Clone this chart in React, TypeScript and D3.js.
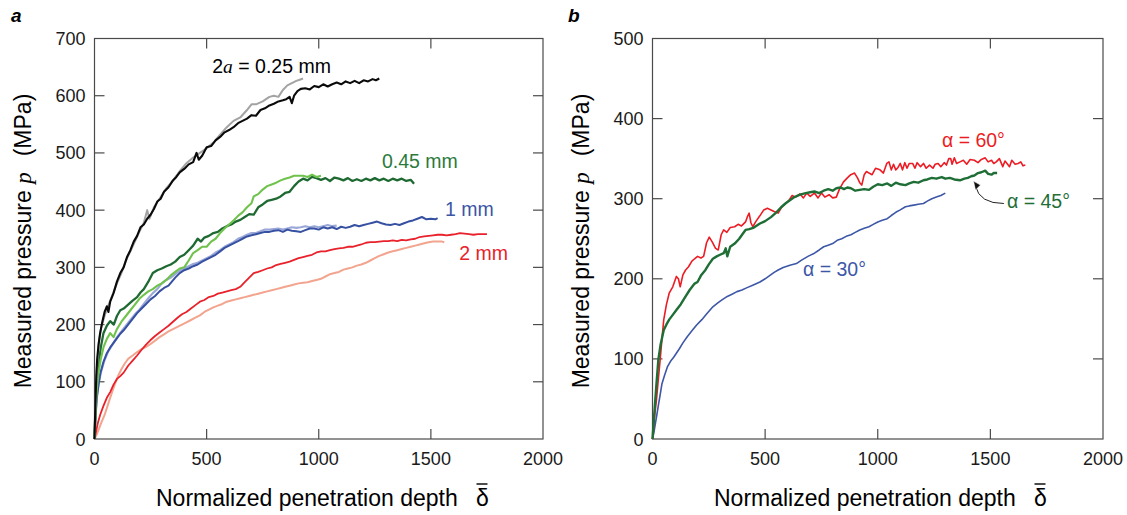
import React from "react";
import * as d3 from "d3";

type P = [number, number];

// ---------- Panel a data (normalized depth, pressure MPa) ----------
const a025Dark: P[] = [[0,0],[4,60],[8,110],[12,140],[18,165],[25,185],[35,205],[45,222],[55,232],[62,222],[70,240],[85,255],[100,275],[115,290],[130,300],[145,318],[160,330],[175,345],[190,355],[205,370],[220,375],[235,385],[250,392],[265,402],[280,415],[295,420],[310,432],[330,440],[350,452],[365,458],[380,466],[400,472],[420,480],[440,484],[455,500],[465,488],[480,495],[500,510],[520,512],[540,522],[560,528],[580,536],[600,540],[620,545],[640,552],[660,556],[680,560],[700,566],[720,565],[740,575],[760,578],[780,583],[800,586],[820,590],[840,592],[855,594],[870,598],[880,587],[890,600],[905,608],[920,612],[940,613],[960,611],[980,617],[1000,615],[1020,620],[1040,616],[1060,620],[1080,623],[1100,620],[1120,625],[1140,622],[1160,626],[1180,622],[1200,627],[1220,625],[1240,629],[1255,627],[1270,630]];
const a025Light: P[] = [[0,0],[5,70],[10,120],[20,170],[30,195],[45,215],[60,232],[80,252],[100,272],[120,290],[140,312],[160,328],[180,345],[200,362],[220,378],[235,400],[245,385],[265,405],[290,420],[320,438],[350,452],[380,468],[410,482],[440,492],[470,500],[500,508],[530,518],[560,532],[590,545],[620,556],[650,562],[680,575],[700,585],[720,585],[750,590],[780,598],[800,600],[820,598],[840,610],[860,618],[880,622],[900,626],[915,628],[930,630]];
const a045Dark: P[] = [[0,0],[5,60],[10,100],[18,130],[28,160],[40,185],[55,198],[70,206],[86,200],[100,215],[115,225],[130,228],[150,235],[170,242],[190,248],[205,256],[220,262],[240,275],[260,290],[280,295],[300,298],[320,302],[340,305],[360,310],[380,318],[400,322],[420,330],[440,338],[460,350],[475,345],[490,352],[510,355],[530,360],[550,362],[570,368],[590,372],[610,375],[630,380],[650,383],[670,388],[690,393],[710,392],[730,405],[750,410],[770,416],[790,418],[810,420],[830,424],[850,430],[870,432],[890,442],[910,450],[930,455],[950,452],[970,458],[990,456],[1010,453],[1030,456],[1050,451],[1070,457],[1090,455],[1110,452],[1130,456],[1150,451],[1170,454],[1190,451],[1210,455],[1230,452],[1250,456],[1270,452],[1290,455],[1310,451],[1330,455],[1350,452],[1370,455],[1390,451],[1410,453],[1425,446]];
const a045Light: P[] = [[0,0],[5,50],[10,85],[18,115],[28,140],[40,160],[55,175],[70,185],[85,178],[100,192],[120,205],[140,215],[160,225],[180,235],[200,245],[220,252],[240,258],[260,262],[280,268],[300,272],[320,278],[340,286],[360,292],[380,298],[400,300],[420,312],[440,325],[460,330],[480,336],[500,336],[520,345],[540,350],[560,360],[580,368],[600,375],[620,382],[640,390],[660,396],[680,405],[700,412],[710,424],[730,428],[750,436],[770,442],[790,445],[810,448],[830,452],[850,455],[870,457],[890,460],[910,460],[930,460],[950,458],[970,462],[990,458],[1010,460]];
const a1Dark: P[] = [[0,0],[5,40],[10,70],[18,95],[26,115],[40,135],[55,150],[70,160],[85,168],[100,176],[115,184],[130,190],[150,200],[170,210],[190,220],[210,228],[230,236],[250,244],[270,250],[290,258],[310,264],[330,268],[345,275],[360,282],[380,290],[400,295],[420,298],[440,302],[460,305],[480,310],[500,314],[520,318],[540,322],[560,328],[580,334],[600,338],[620,342],[640,346],[660,350],[680,354],[700,356],[720,358],[740,360],[760,362],[780,362],[800,364],[820,365],[840,362],[860,366],[880,364],[900,363],[920,362],[940,365],[960,368],[980,368],[1000,366],[1020,370],[1040,368],[1060,370],[1080,367],[1100,371],[1120,369],[1140,371],[1160,374],[1180,372],[1200,374],[1220,376],[1240,378],[1260,380],[1280,377],[1300,375],[1320,374],[1340,376],[1360,374],[1380,377],[1400,380],[1420,382],[1440,385],[1460,388],[1480,384],[1500,385],[1520,384],[1530,386]];
const a1Light: P[] = [[0,0],[5,45],[10,75],[20,100],[30,118],[45,138],[60,152],[80,165],[100,178],[120,188],[140,198],[160,208],[180,218],[200,226],[220,236],[240,246],[260,255],[280,262],[300,272],[320,278],[340,282],[360,288],[380,294],[400,298],[420,302],[440,306],[460,308],[480,312],[500,316],[520,320],[540,326],[560,330],[580,336],[600,340],[620,344],[640,350],[660,353],[680,357],[700,360],[720,360],[740,363],[760,366],[780,366],[800,367],[820,368],[840,366],[860,368],[880,370],[900,369],[920,370],[940,372],[960,370],[980,372],[1000,370],[1020,372],[1040,374],[1060,372],[1080,373]];
const a2Dark: P[] = [[0,0],[8,15],[15,28],[25,42],[40,58],[55,72],[70,82],[85,95],[100,105],[115,110],[130,116],[150,128],[170,137],[190,146],[210,156],[230,165],[250,173],[270,180],[290,186],[310,192],[330,198],[350,205],[370,212],[390,218],[410,222],[430,228],[450,234],[470,240],[490,243],[510,248],[530,250],[550,254],[570,256],[590,258],[610,260],[630,262],[650,266],[670,274],[690,282],[710,290],[730,292],[750,295],[770,298],[790,300],[810,304],[830,306],[850,308],[870,310],[890,313],[910,316],[930,318],[950,320],[970,322],[990,326],[1010,328],[1030,328],[1050,330],[1070,332],[1090,333],[1110,334],[1130,336],[1150,336],[1170,338],[1190,340],[1210,343],[1230,344],[1250,344],[1270,345],[1290,346],[1310,346],[1330,347],[1350,346],[1370,348],[1390,347],[1410,349],[1430,350],[1450,353],[1470,354],[1490,355],[1510,356],[1530,357],[1550,357],[1570,356],[1590,357],[1610,358],[1630,360],[1650,359],[1670,358],[1690,357],[1710,358],[1730,358],[1750,358]];
const a2Light: P[] = [[0,0],[10,8],[20,18],[30,28],[45,42],[60,60],[75,78],[90,95],[105,110],[120,122],[135,132],[150,140],[170,146],[190,152],[210,157],[230,161],[250,166],[270,172],[290,178],[310,183],[330,188],[350,192],[370,196],[390,200],[410,204],[430,208],[450,212],[470,216],[490,222],[510,226],[530,230],[550,233],[570,236],[590,240],[610,242],[630,244],[650,246],[670,248],[690,250],[710,252],[730,254],[750,256],[770,258],[790,260],[810,262],[830,264],[850,266],[870,268],[890,270],[910,272],[930,273],[950,274],[970,276],[990,278],[1010,280],[1030,284],[1050,288],[1070,290],[1090,292],[1110,296],[1130,298],[1150,300],[1170,303],[1190,305],[1210,308],[1230,312],[1250,316],[1270,320],[1290,323],[1310,326],[1330,328],[1350,330],[1370,332],[1390,334],[1410,336],[1430,338],[1450,340],[1470,342],[1490,344],[1510,345],[1530,345],[1550,345],[1560,344]];

// ---------- Panel b data ----------
const b60: P[] = [[0,0],[5,15],[10,30],[18,50],[26,75],[34,99],[42,125],[50,149],[62,168],[74,182],[90,190],[106,203],[115,200],[123,190],[135,205],[147,211],[160,215],[175,222],[187,225],[200,228],[215,226],[227,228],[240,245],[252,252],[265,246],[280,238],[292,236],[305,255],[316,261],[330,258],[345,264],[365,265],[380,268],[395,266],[413,271],[422,278],[429,282],[437,270],[445,265],[460,272],[475,278],[494,286],[510,288],[526,286],[540,284],[558,282],[575,290],[590,294],[606,298],[620,304],[635,302],[655,306],[670,301],[685,307],[700,303],[719,307],[735,301],[750,307],[765,302],[784,305],[800,301],[816,302],[830,312],[848,321],[865,326],[880,330],[897,332],[910,326],[920,320],[929,317],[940,330],[950,334],[961,332],[975,330],[990,338],[1010,336],[1025,332],[1040,344],[1050,346],[1060,336],[1070,343],[1080,336],[1090,339],[1100,344],[1110,336],[1120,345],[1130,338],[1140,344],[1155,344],[1165,338],[1175,345],[1190,340],[1203,344],[1215,338],[1230,342],[1245,338],[1255,343],[1268,344],[1280,340],[1295,345],[1305,342],[1315,350],[1324,350],[1330,343],[1340,351],[1350,344],[1365,346],[1380,348],[1395,343],[1410,349],[1429,348],[1445,345],[1460,349],[1477,351],[1490,346],[1505,348],[1515,344],[1526,346],[1540,350],[1555,340],[1565,347],[1574,344],[1585,340],[1595,348],[1610,343],[1623,344],[1635,346],[1645,341],[1655,342]];
const b45: P[] = [[0,0],[5,20],[10,40],[18,70],[26,99],[36,118],[50,136],[62,143],[74,149],[90,155],[106,161],[125,168],[147,178],[165,186],[187,194],[200,196],[215,204],[235,211],[250,218],[268,225],[285,228],[300,230],[316,232],[325,238],[332,228],[345,240],[365,244],[385,250],[400,256],[413,261],[430,262],[450,264],[477,269],[500,272],[526,277],[550,283],[570,289],[590,294],[610,298],[630,302],[655,305],[680,307],[700,308],[719,309],[740,307],[760,310],[780,312],[800,310],[816,313],[835,314],[850,312],[865,314],[881,313],[900,310],[920,311],[940,312],[961,311],[980,315],[1000,318],[1020,317],[1042,319],[1060,316],[1080,320],[1100,318],[1123,317],[1140,319],[1160,321],[1180,320],[1203,323],[1220,324],[1240,326],[1260,325],[1284,327],[1300,325],[1320,326],[1340,324],[1365,323],[1385,325],[1400,326],[1415,328],[1429,329],[1445,332],[1460,333],[1477,335],[1490,331],[1505,330],[1515,332],[1530,332]];
const b30: P[] = [[0,0],[6,8],[12,18],[18,28],[26,42],[34,55],[42,69],[54,80],[66,90],[80,97],[94,102],[106,107],[120,113],[135,120],[155,128],[175,135],[195,142],[219,149],[240,156],[268,165],[290,170],[310,174],[332,178],[355,181],[375,184],[397,186],[420,189],[445,192],[477,196],[500,200],[520,204],[540,208],[558,211],[580,214],[610,217],[639,219],[660,223],[690,228],[719,232],[740,236],[760,240],[780,242],[800,244],[820,248],[840,250],[860,253],[881,255],[900,258],[920,261],[940,263],[961,265],[980,268],[1000,271],[1020,273],[1042,275],[1060,279],[1080,283],[1100,286],[1123,290],[1140,291],[1160,292],[1180,293],[1203,294],[1220,297],[1240,300],[1260,302],[1280,304],[1300,307]];

const xTicks = [0, 500, 1000, 1500, 2000];
const yTicksA = [0, 100, 200, 300, 400, 500, 600, 700];
const yTicksB = [0, 100, 200, 300, 400, 500];

const FONT = "'Liberation Sans', Arial, sans-serif";
const SERIF = "'Liberation Serif', 'Times New Roman', serif";

type Series = { data: P[]; color: string; width: number };
type Label = { x: number; y: number; color: string; parts: React.ReactNode };

function Panel(props: {
  left: number; right: number; top: number; bottom: number;
  yMax: number; yTicks: number[]; series: Series[]; labels: Label[];
  letter: string; letterX: number; yTitleX: number; xTitleX: number;
  arrow?: { tail: P; tip: P };
}) {
  const { left, right, top, bottom } = props;
  const x = d3.scaleLinear().domain([0, 2000]).range([left, right]);
  const y = d3.scaleLinear().domain([0, props.yMax]).range([bottom, top]);
  const line = d3.line<P>().x((d) => x(d[0])).y((d) => y(d[1]));
  const tickLen = 10;
  const axisColor = "#4a4a4a";
  const inner = xTicks.slice(1, -1);
  const innerY = props.yTicks.slice(1, -1);
  const yMid = 241;
  let arrowEl = null;
  if (props.arrow) {
    const [tx, ty] = [x(props.arrow.tail[0]), y(props.arrow.tail[1])];
    const [hx, hy] = [x(props.arrow.tip[0]), y(props.arrow.tip[1])];
    const cx = hx + 6, cy = ty;
    const d = `M${tx},${ty} Q${cx},${cy} ${hx + 2},${hy + 5}`;
    arrowEl = (
      <g>
        <path d={d} fill="none" stroke="#fff" strokeWidth={3.5} />
        <path d={d} fill="none" stroke="#222" strokeWidth={1} />
        <path d={`M${hx},${hy} L${hx + 7},${hy + 4} L${hx + 2},${hy + 9} Z`} fill="#111" stroke="#fff" strokeWidth={0.6} />
      </g>
    );
  }
  return (
    <g>
      <rect x={left} y={top} width={right - left} height={bottom - top} fill="none" stroke={axisColor} strokeWidth={1.2} />
      {inner.map((t) => (
        <g key={"xt" + t}>
          <line x1={x(t)} x2={x(t)} y1={bottom} y2={bottom - tickLen} stroke={axisColor} strokeWidth={1.2} />
          <line x1={x(t)} x2={x(t)} y1={top} y2={top + tickLen} stroke={axisColor} strokeWidth={1.2} />
        </g>
      ))}
      {innerY.map((t) => (
        <g key={"yt" + t}>
          <line x1={left} x2={left + tickLen} y1={y(t)} y2={y(t)} stroke={axisColor} strokeWidth={1.2} />
          <line x1={right} x2={right - tickLen} y1={y(t)} y2={y(t)} stroke={axisColor} strokeWidth={1.2} />
        </g>
      ))}
      {xTicks.map((t) => (
        <text key={"xl" + t} x={x(t)} y={bottom + 26} textAnchor="middle" fontFamily={FONT} fontSize={18} fill="#1a1a1a">{t}</text>
      ))}
      {props.yTicks.map((t) => (
        <text key={"yl" + t} x={left - 9} y={y(t) + 6.5} textAnchor="end" fontFamily={FONT} fontSize={18} fill="#1a1a1a">{t}</text>
      ))}
      {props.series.map((s, i) => (
        <path key={"s" + i} d={line(s.data) || ""} fill="none" stroke={s.color} strokeWidth={s.width} strokeLinejoin="round" />
      ))}
      {props.labels.map((l, i) => (
        <text key={"l" + i} x={x(l.x)} y={y(l.y)} fontFamily={FONT} fontSize={19.5} fill={l.color}>{l.parts}</text>
      ))}
      {arrowEl}
      <text x={props.letterX} y={22} fontFamily={FONT} fontSize={19} fontWeight="bold" fontStyle="italic" fill="#000">{props.letter}</text>
      <text transform={`translate(${props.yTitleX},${yMid}) rotate(-90)`} textAnchor="middle" fontFamily={FONT} fontSize={23} fill="#000">
        Measured pressure <tspan fontFamily={SERIF} fontStyle="italic">p</tspan><tspan dx={16}>(MPa)</tspan>
      </text>
      <text x={props.xTitleX} y={506} fontFamily={FONT} fontSize={23} fill="#000">Normalized penetration depth</text>
      <text x={props.xTitleX + 320} y={506} fontFamily={FONT} fontSize={23} fill="#000">δ</text>
      <line x1={props.xTitleX + 320.5} x2={props.xTitleX + 331.5} y1={484} y2={484} stroke="#000" strokeWidth={1.4} />
    </g>
  );
}

export default function App() {
  const seriesA: Series[] = [
    { data: a2Light, color: "#f2a48f", width: 2 },
    { data: a2Dark, color: "#e8212b", width: 1.8 },
    { data: a1Light, color: "#9aa8d8", width: 2.1 },
    { data: a1Dark, color: "#3650a2", width: 2 },
    { data: a045Dark, color: "#1f6a32", width: 2.3 },
    { data: a045Light, color: "#6fc24c", width: 2.1 },
    { data: a025Light, color: "#a3a3a3", width: 2 },
    { data: a025Dark, color: "#0a0a0a", width: 2.1 },
  ];
  const labelsA: Label[] = [
    { x: 525, y: 640, color: "#000", parts: <>2<tspan fontFamily={SERIF} fontStyle="italic">a</tspan> = 0.25 mm</> },
    { x: 1282, y: 474, color: "#2b7a3d", parts: "0.45 mm" },
    { x: 1563, y: 390, color: "#3a55a6", parts: "1 mm" },
    { x: 1626, y: 313, color: "#e8212b", parts: "2 mm" },
  ];
  const seriesB: Series[] = [
    { data: b30, color: "#3d57a7", width: 1.6 },
    { data: b60, color: "#ec1c24", width: 1.6 },
    { data: b45, color: "#1e6e36", width: 2.4 },
  ];
  const labelsB: Label[] = [
    { x: 1285, y: 364, color: "#ec1c24", parts: "α = 60°" },
    { x: 1574, y: 288, color: "#1e6e36", parts: "α = 45°" },
    { x: 668, y: 203, color: "#3d57a7", parts: "α = 30°" },
  ];
  return (
    <svg width={1127} height={515} style={{ position: "absolute", left: 0, top: 0, background: "#fff" }}>
      <rect x={0} y={0} width={1127} height={515} fill="#fff" />
      <Panel left={94.5} right={543} top={38.5} bottom={439} yMax={700} yTicks={yTicksA}
        series={seriesA} labels={labelsA} letter="a" letterX={11} yTitleX={31} xTitleX={156} />
      <Panel left={652.5} right={1103} top={38.5} bottom={439} yMax={500} yTicks={yTicksB}
        series={seriesB} labels={labelsB} letter="b" letterX={568} yTitleX={589} xTitleX={714}
        arrow={{ tail: [1560, 294], tip: [1425, 322] }} />
    </svg>
  );
}
